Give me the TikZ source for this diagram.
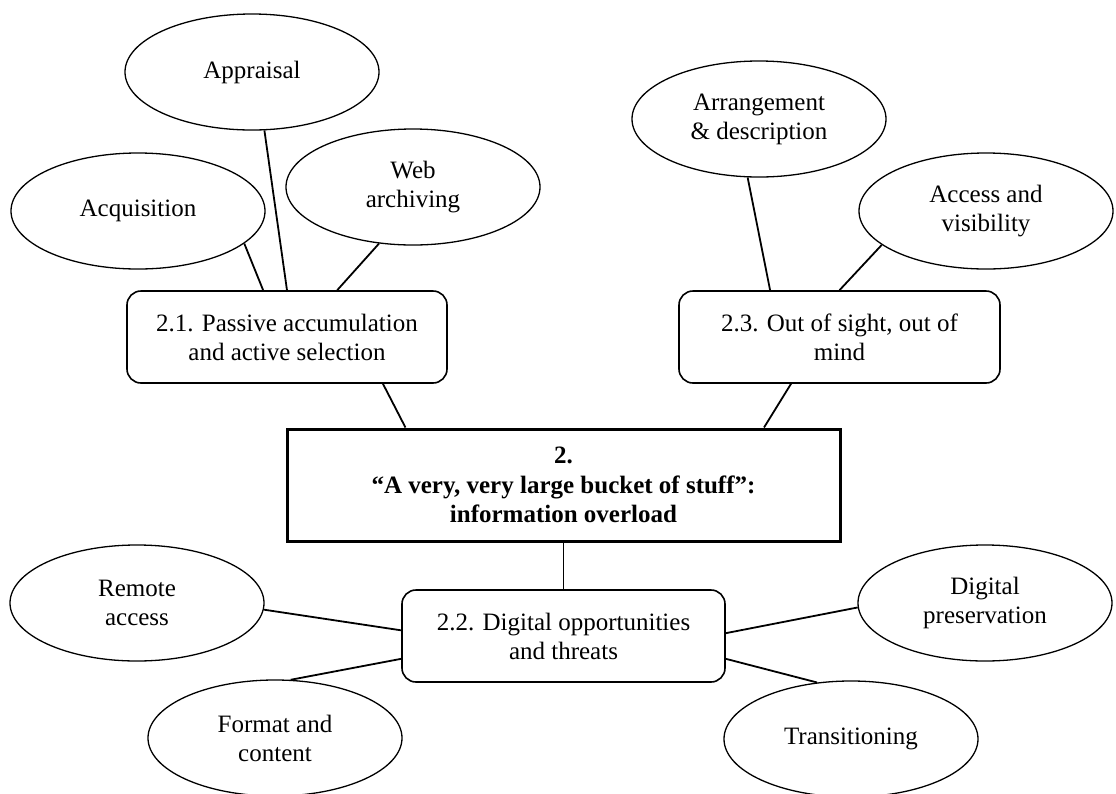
\documentclass[tikz,border=0pt]{standalone}
\usepackage{fontspec}
\setmainfont{Liberation Serif}
\usetikzlibrary{shapes.geometric}

\begin{document}
\begin{tikzpicture}[x=0.5pt,y=-0.5pt,
  every node/.style={font=\fontsize{12.5}{14.5}\selectfont, align=center, inner sep=0pt},
  topic/.style={draw, ellipse, line width=0.65pt, minimum width=127pt, minimum height=58pt},
  subbox/.style={draw, rectangle, rounded corners=7pt, line width=0.8pt, minimum height=46pt},
  mainbox/.style={draw, rectangle, line width=1.5pt, minimum width=276.5pt, minimum height=56pt, font=\fontsize{12.5}{14.8}\selectfont\bfseries},
  link/.style={line width=0.9pt}]
\useasboundingbox (0,0) rectangle (1116,794);

% central theme
\node[mainbox] (ctr) at (563.5,485) {2.\\``A very, very large bucket of stuff'':\\information overload};

% sub-themes
\node[subbox, minimum width=160pt]   (b21) at (287,337)   {2.1. Passive accumulation\\and active selection};
\node[subbox, minimum width=160.5pt] (b23) at (839.5,337) {2.3. Out of sight, out of\\mind};
\node[subbox, minimum width=161.5pt] (b22) at (563.5,636) {2.2. Digital opportunities\\and threats};

% topics
\node[topic] (app) at (252,72)  {Appraisal};
\node[topic] (acq) at (138,211) {Acquisition};
\node[topic] (web) at (413,187) {Web\\archiving};
\node[topic] (arr) at (759,119) {Arrangement\\\& description};
\node[topic] (acc) at (986,211) {Access and\\visibility};
\node[topic] (rem) at (137,603) {Remote\\access};
\node[topic] (dig) at (985,603) {Digital\\preservation};
\node[topic] (fmt) at (275,738) {Format and\\content};
\node[topic] (trn) at (851,739) {Transitioning};

% connectors
\draw[link] (acq.-17.5) -- (b21.117.6);
\draw[link] (app.-78)   -- (b21.90);
\draw[link] (web.239.5) -- (b21.43.8);
\draw[link] (b21.-26.3) -- (ctr.160.9);

\draw[link] (arr.259.2) -- (b23.146.1);
\draw[link] (acc.198.2) -- (b23.90);
\draw[link] (b23.224.7) -- (ctr.16.9);

\draw[link] (ctr.south) -- (b22.north);
\draw[link] (rem.-3)    -- (b22.178.2);
\draw[link] (fmt.75.2)  -- (b22.188.1);
\draw[link] (dig.182.7) -- (b22.1.8);
\draw[link] (trn.121.8) -- (b22.-8.1);
\end{tikzpicture}
\end{document}
